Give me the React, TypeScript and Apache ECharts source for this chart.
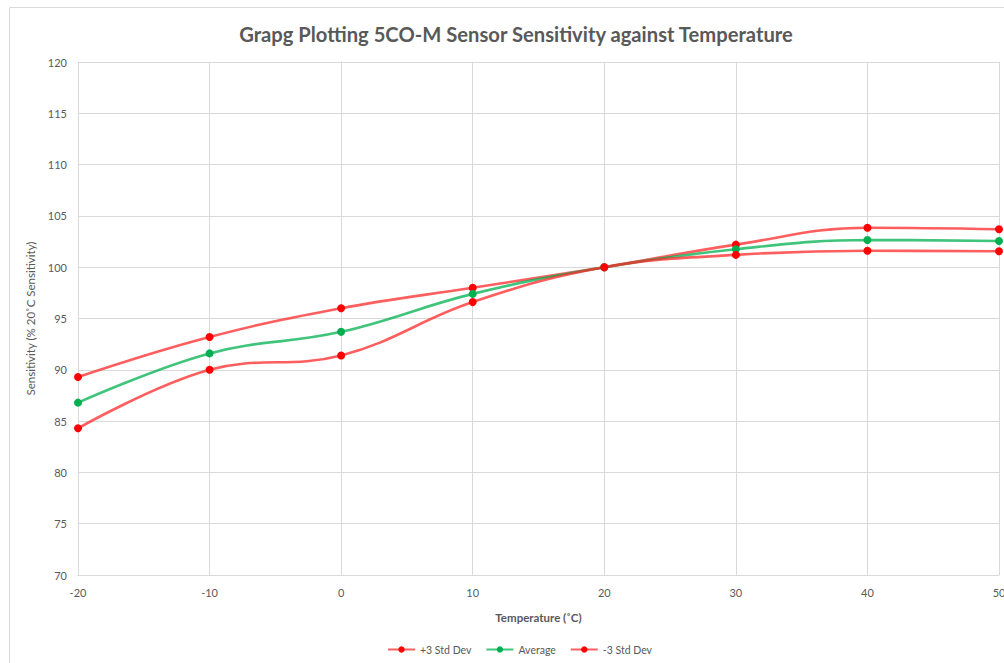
import React, { useEffect, useRef } from "react";
import * as echarts from "echarts";

const temperatures = [-20, -10, 0, 10, 20, 30, 40, 50];
const plus3 = [89.3, 93.2, 96.0, 98.0, 100.0, 102.2, 103.85, 103.7];
const average = [86.8, 91.6, 93.7, 97.4, 100.0, 101.75, 102.65, 102.55];
const minus3 = [84.3, 90.0, 91.4, 96.6, 100.0, 101.2, 101.6, 101.55];
const seriesNames = ["+3 Std Dev", "Average", "-3 Std Dev"];

const FONT = "Lato, 'Open Sans', sans-serif";
const GRAY = "#595959";

function pairs(vals: number[]) {
  return temperatures.map((t, i) => [t, vals[i]]);
}

export default function App() {
  const ref = useRef<HTMLDivElement>(null);
  useEffect(() => {
    document.body.style.margin = "0";
    document.body.style.overflow = "hidden";
    const chart = echarts.init(ref.current!, null, { renderer: "svg" });
    const mk = (name: string, vals: number[], line: string, marker: string) => ({
      name,
      type: "line",
      data: pairs(vals),
      smooth: 0.4,
      symbol: "circle",
      symbolSize: 8,
      lineStyle: { color: line, width: 2.6 },
      itemStyle: { color: marker },
    });
    chart.setOption({
      animation: false,
      backgroundColor: "#fff",
      textStyle: { fontFamily: FONT },
      title: {
        text: "Grapg Plotting 5CO-M Sensor Sensitivity against Temperature",
        left: 511,
        textAlign: "center",
        top: 19,
        textStyle: { fontFamily: FONT, fontSize: 20.2, fontWeight: "bold", color: GRAY },
      },
      graphic: [
        {
          type: "rect",
          shape: { x: 9.5, y: 7.5, width: 1100, height: 700 },
          style: { fill: "none", stroke: "#d9d9d9", lineWidth: 1 },
          silent: true,
        },
      ],
      legend: {
        data: seriesNames,
        left: 382,
        top: 639,
        itemWidth: 27,
        itemHeight: 8,
        itemGap: 14,
        textStyle: { fontFamily: FONT, fontSize: 10.5, color: GRAY },
      },
      grid: { left: 78, right: 5, top: 62, bottom: 88, outerBoundsMode: "none", containLabel: false },
      xAxis: {
        type: "value",
        min: -20,
        max: 50,
        interval: 10,
        name: "Temperature (˚C)",
        nameLocation: "middle",
        nameGap: 36,
        nameTextStyle: { fontFamily: FONT, fontSize: 11.5, fontWeight: "bold", color: GRAY },
        axisLine: { show: true, lineStyle: { color: "#d9d9d9", width: 1 } },
        axisTick: { show: false },
        axisLabel: { color: GRAY, fontSize: 11, margin: 12, fontFamily: FONT },
        splitLine: { show: true, lineStyle: { color: "#d9d9d9", width: 1 } },
      },
      yAxis: {
        type: "value",
        min: 70,
        max: 120,
        interval: 5,
        name: "Sensitivity (% 20˚C Sensitivity)",
        nameLocation: "middle",
        nameGap: 31,
        nameTextStyle: { fontFamily: FONT, fontSize: 11.5, color: GRAY },
        axisLine: { show: true, lineStyle: { color: "#d9d9d9", width: 1 } },
        axisTick: { show: false },
        axisLabel: { color: GRAY, fontSize: 11, margin: 11, fontFamily: FONT },
        splitLine: { show: true, lineStyle: { color: "#d9d9d9", width: 1 } },
      },
      series: [
        mk(seriesNames[0], plus3, "rgba(255,40,40,0.75)", "#ff0000"),
        mk(seriesNames[1], average, "rgba(0,176,80,0.75)", "#00b050"),
        mk(seriesNames[2], minus3, "rgba(255,40,40,0.75)", "#ff0000"),
      ],
    });
    return () => chart.dispose();
  }, []);
  return <div ref={ref} style={{ width: 1004, height: 663 }} />;
}
